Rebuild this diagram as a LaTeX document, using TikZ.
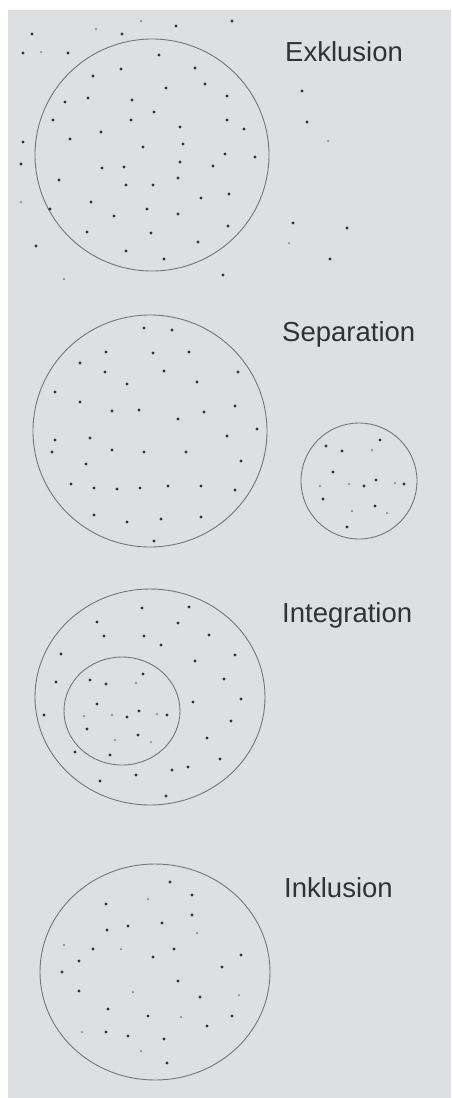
\documentclass[tikz,border=0pt]{standalone}
\usepackage{fontspec}
\setmainfont{Liberation Sans}
\definecolor{panel}{RGB}{222,223,226}
\definecolor{ring}{RGB}{118,118,120}
\definecolor{dotdark}{RGB}{50,50,53}
\definecolor{dotlight}{RGB}{145,145,150}
\definecolor{label}{RGB}{50,50,52}
\tikzset{
  ringline/.style={draw=ring, line width=0.9pt},
  lbl/.style={anchor=base west, inner sep=0pt, text=label, font=\fontsize{27.5}{30}\selectfont},
}
\newcommand{\dk}[1]{\foreach \p in {#1} {\fill[dotdark] \p circle (1.6);}}
\newcommand{\lt}[1]{\foreach \p in {#1} {\fill[dotlight] \p circle (1.25);}}
\begin{document}
\begin{tikzpicture}[x=1pt,y=-1pt]
\useasboundingbox (0,0) rectangle (451,1098);
\fill[panel] (8,10) rectangle (451,1098);

% ---------- Exklusion ----------
\node[lbl] (exk) at (285,61) {Exklusion};
\draw[ringline] (152,155) ellipse (117 and 116);
\dk{(32,34),(176,26),(232,21),(122,34),(23,53),(68,53),(302,91),(307,122),(23,142),(21,164),(36,246),(223,275),(293,223),(347,228),(330,259)}
\lt{(96,29),(141,21),(41,52),(328,141),(21,202),(64,279),(289,243)}
\dk{(159,55),(121,69),(195,68),(93,76),(205,84),(166,88),(88,98),(65,102),(132,100),(227,96),(154,112),(53,120),(131,120),(227,120),(180,127),(244,129),(70,139),(101,132),(183,144),(143,147),(225,154),(255,157),(180,162),(213,166),(102,168),(124,167),(59,180),(178,178),(126,185),(153,185),(229,194),(201,198),(91,202),(147,209),(50,209),(114,216),(178,214),(228,226),(87,232),(151,233),(198,242),(126,251),(164,259)}

% ---------- Separation ----------
\node[lbl] (sep) at (282,341) {Separation};
\draw[ringline] (150,431) ellipse (117 and 116);
\draw[ringline] (359,481) ellipse (58 and 58);
\dk{(144,328),(172,330),(106,352),(153,353),(189,352),(80,363),(105,372),(164,371),(238,372),(127,384),(197,382),(55,392),(80,402),(235,406),(112,411),(139,410),(204,412),(178,419),(257,429),(55,440),(90,438),(227,436),(52,452),(112,450),(144,452),(186,452),(241,461),(86,464),(71,484),(94,488),(117,489),(140,488),(168,486),(201,486),(235,490),(94,515),(127,522),(161,519),(201,517),(154,541)}
\dk{(326,446),(342,451),(380,440),(333,472),(364,486),(376,480),(404,484),(323,499),(375,506),(347,527)}
\lt{(372,450),(320,486),(349,484),(395,483),(352,511),(387,513)}

% ---------- Integration ----------
\node[lbl] (int) at (282,622) {Integration};
\draw[ringline] (150,697) ellipse (115 and 108);
\draw[ringline] (122,711) ellipse (58 and 54);
\dk{(142,608),(189,607),(97,622),(178,623),(104,636),(144,636),(209,635),(161,645),(61,654),(235,655),(195,661),(56,682),(224,679),(241,699),(193,702),(44,715),(231,721),(207,738),(75,752),(110,755),(220,759),(188,767),(172,770),(136,775),(100,781),(166,796)}
\dk{(143,674),(90,680),(106,684),(97,704),(127,717),(139,711),(167,715),(87,729),(138,735)}
\lt{(136,683),(84,716),(112,715),(157,714),(115,740),(151,742)}

% ---------- Inklusion ----------
\node[lbl] (ink) at (284,897) {Inklusion};
\draw[ringline] (155,972) ellipse (115 and 108);
\dk{(170,882),(192,895),(106,904),(192,915),(162,923),(128,926),(107,930),(93,949),(174,949),(153,957),(241,955),(79,961),(222,967),(62,972),(178,981),(79,991),(200,997),(108,1009),(148,1016),(232,1016),(207,1026),(106,1032),(128,1036),(164,1039),(167,1063)}
\lt{(148,899),(197,933),(64,945),(121,949),(133,992),(239,995),(181,1017),(82,1032),(141,1051)}
\end{tikzpicture}
\end{document}
